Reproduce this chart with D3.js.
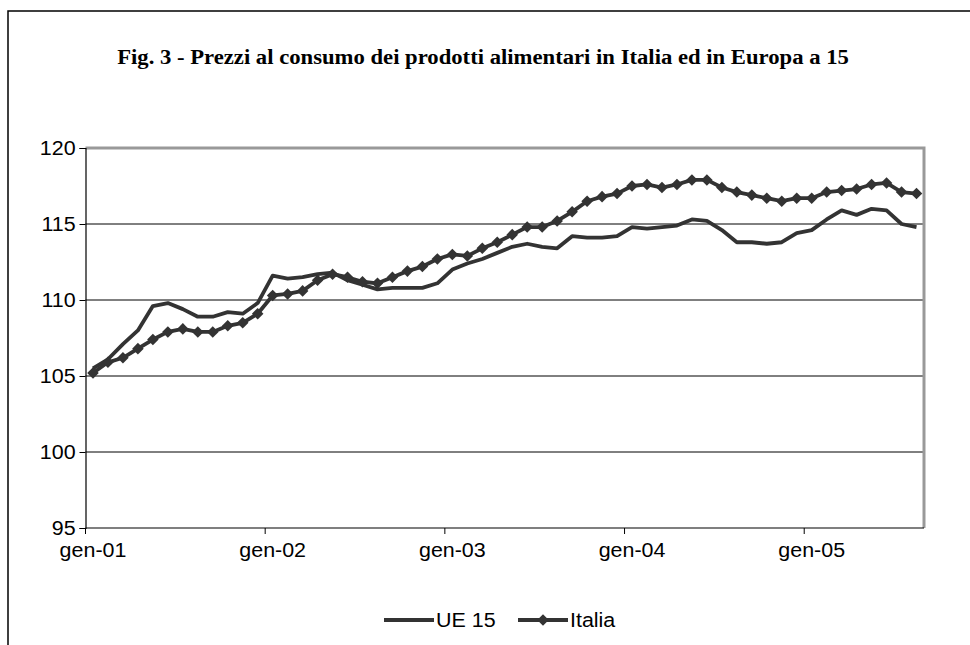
<!DOCTYPE html>
<html>
<head>
<meta charset="utf-8">
<script src="https://cdn.jsdelivr.net/npm/d3@7"></script>
<style>
  body { margin: 0; background: #fff; }
  svg { display: block; }
</style>
</head>
<body>
<script>
var monthNames = ['gen', 'feb', 'mar', 'apr', 'mag', 'giu', 'lug', 'ago', 'set', 'ott', 'nov', 'dic'],
    years = ['01', '02', '03', '04', '05'],
    yTicks = [95, 100, 105, 110, 115, 120],
    xTickLabels = ['gen-01', 'gen-02', 'gen-03', 'gen-04', 'gen-05'],
    seriesNames = ['UE 15', 'Italia'];

// gen-01 .. ago-05 (56 mesi)
var categories = [];
years.forEach(function (yy) {
  monthNames.forEach(function (m) { categories.push(m + '-' + yy); });
});
categories = categories.slice(0, 56);

var ue15 = [105.5, 106.1, 107.1, 108.0, 109.6, 109.8, 109.4, 108.9, 108.9, 109.2, 109.1, 109.8,
            111.6, 111.4, 111.5, 111.7, 111.8, 111.3, 111.0, 110.7, 110.8, 110.8, 110.8, 111.1,
            112.0, 112.4, 112.7, 113.1, 113.5, 113.7, 113.5, 113.4, 114.2, 114.1, 114.1, 114.2,
            114.8, 114.7, 114.8, 114.9, 115.3, 115.2, 114.6, 113.8, 113.8, 113.7, 113.8, 114.4,
            114.6, 115.3, 115.9, 115.6, 116.0, 115.9, 115.0, 114.8];

var italia = [105.2, 105.9, 106.2, 106.8, 107.4, 107.9, 108.1, 107.9, 107.9, 108.3, 108.5, 109.1,
              110.3, 110.4, 110.6, 111.3, 111.7, 111.5, 111.2, 111.1, 111.5, 111.9, 112.2, 112.7,
              113.0, 112.9, 113.4, 113.8, 114.3, 114.8, 114.8, 115.2, 115.8, 116.5, 116.8, 117.0,
              117.5, 117.6, 117.4, 117.6, 117.9, 117.9, 117.4, 117.1, 116.9, 116.7, 116.5, 116.7,
              116.7, 117.1, 117.2, 117.3, 117.6, 117.7, 117.1, 117.0];

var width = 970, height = 645,
    plot = {left: 85.5, right: 924, top: 148, bottom: 528},
    lineColor = '#333333',
    stretch = 1.1,   // il grafico originale e' un po' allargato in orizzontale
    sans = '"Liberation Sans", Arial, sans-serif',
    labelSize = 19.5;

var svg = d3.select('body').append('svg').attr('width', width).attr('height', height);

// cornice esterna
svg.append('rect')
  .attr('x', 8).attr('y', 11)
  .attr('width', 1000).attr('height', 700)
  .attr('fill', 'none').attr('stroke', '#000').attr('stroke-width', 1.5);

svg.append('text')
  .attr('transform', 'translate(483,64) scale(1.08,1)')
  .attr('text-anchor', 'middle')
  .attr('font-family', '"Liberation Serif", "Times New Roman", serif')
  .attr('font-weight', 'bold')
  .attr('font-size', 21)
  .text('Fig. 3 - Prezzi al consumo dei prodotti alimentari in Italia ed in Europa a 15');

var x = d3.scaleBand().domain(categories).range([plot.left, plot.right]);
var y = d3.scaleLinear().domain([95, 120]).range([plot.bottom, plot.top]);

function cx(d) { return x(d) + x.bandwidth() / 2; }

// griglia
svg.append('g').selectAll('line')
  .data(yTicks.slice(1, -1))
  .join('line')
  .attr('x1', plot.left).attr('x2', plot.right)
  .attr('y1', function (d) { return y(d); }).attr('y2', function (d) { return y(d); })
  .attr('stroke', '#000').attr('stroke-width', 1);

// bordo area del grafico (grigio sopra e a destra)
svg.append('path')
  .attr('d', 'M' + plot.left + ',' + plot.top + 'H' + plot.right + 'V' + plot.bottom)
  .attr('fill', 'none').attr('stroke', '#999').attr('stroke-width', 3);

var yAxis = d3.axisLeft(y).tickValues(yTicks).tickSize(6).tickPadding(3).tickFormat(d3.format('d'));
var gy = svg.append('g').attr('transform', 'translate(' + plot.left + ',0)').call(yAxis);

var xAxis = d3.axisBottom(x)
  .tickValues(xTickLabels)
  .tickSize(0).tickPadding(15);
var gx = svg.append('g').attr('transform', 'translate(0,' + plot.bottom + ')').call(xAxis);

// tacche asse x sul confine delle categorie
gx.selectAll('.tick line').remove();
gx.append('g').selectAll('line')
  .data(xTickLabels)
  .join('line')
  .attr('x1', function (d) { return x(d); }).attr('x2', function (d) { return x(d); })
  .attr('y1', 0).attr('y2', 6)
  .attr('stroke', '#000');

[gx, gy].forEach(function (g) {
  g.select('.domain').attr('stroke', '#000').attr('stroke-width', 1.2);
  g.selectAll('.tick text')
    .attr('font-family', sans)
    .attr('font-size', labelSize)
    .attr('fill', '#000')
    .attr('transform', 'scale(' + stretch + ',1)');
});
gx.select('.domain').attr('d', 'M' + plot.left + ',0H' + plot.right);

var line = d3.line()
  .x(function (d, i) { return cx(categories[i]); })
  .y(function (d) { return y(d); });

svg.append('path').datum(ue15)
  .attr('d', line)
  .attr('fill', 'none').attr('stroke', lineColor)
  .attr('stroke-width', 3.8).attr('stroke-linejoin', 'round');

svg.append('path').datum(italia)
  .attr('d', line)
  .attr('fill', 'none').attr('stroke', lineColor)
  .attr('stroke-width', 3.8).attr('stroke-linejoin', 'round');

var diamond = d3.symbol().type(d3.symbolDiamond2).size(85);

svg.append('g').selectAll('path')
  .data(italia)
  .join('path')
  .attr('d', diamond)
  .attr('transform', function (d, i) { return 'translate(' + cx(categories[i]) + ',' + y(d) + ')'; })
  .attr('fill', lineColor);

// legenda
var legend = svg.append('g');
var legendX = [384, 518], sampleLen = 50;
legend.selectAll('line')
  .data(seriesNames)
  .join('line')
  .attr('x1', function (d, i) { return legendX[i]; })
  .attr('x2', function (d, i) { return legendX[i] + sampleLen; })
  .attr('y1', 620).attr('y2', 620)
  .attr('stroke', lineColor).attr('stroke-width', 3.8);
legend.append('path')
  .attr('d', diamond)
  .attr('transform', 'translate(' + (legendX[1] + sampleLen / 2) + ',620)')
  .attr('fill', lineColor);
legend.selectAll('text')
  .data(seriesNames)
  .join('text')
  .attr('transform', function (d, i) { return 'translate(' + (legendX[i] + sampleLen + 2) + ',627) scale(' + stretch + ',1)'; })
  .attr('font-family', sans)
  .attr('font-size', labelSize)
  .text(function (d) { return d; });
</script>
</body>
</html>
